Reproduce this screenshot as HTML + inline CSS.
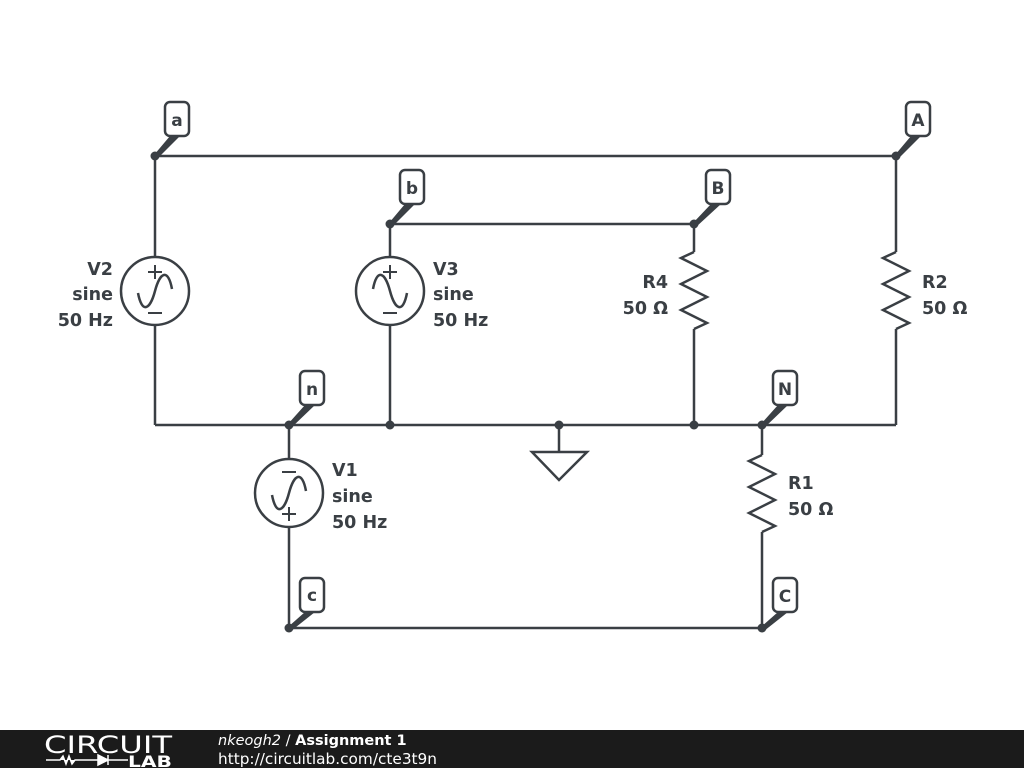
<!DOCTYPE html>
<html><head><meta charset="utf-8"><style>
html,body{margin:0;padding:0;background:#fff;}
svg{display:block}
text{font-family:"DejaVu Sans","Liberation Sans",sans-serif;font-weight:bold;fill:#3a3f44;}
</style></head><body>
<svg width="1024" height="768" viewBox="0 0 1024 768" xmlns="http://www.w3.org/2000/svg">
<g stroke="#3a3f44" stroke-width="2.5" fill="none" stroke-linejoin="miter">
<path d="M155,156 H896"/>
<path d="M390,224 H694"/>
<path d="M155,425 H896"/>
<path d="M289,628 H762"/>
<path d="M155,156 V257 M155,325 V425"/>
<path d="M390,224 V257 M390,325 V425"/>
<path d="M289,425 V459 M289,527 V628"/>
<path d="M694,224 V252 M694,329 V425"/>
<path d="M896,156 V252 M896,329 V425"/>
<path d="M762,425 V455 M762,532 V628"/>
<path d="M559,425 V452"/>
<path d="M532,452 H587 L559,480 Z"/>
<polyline points="694,252 681,258 707,271 681,284 707,297 681,310 707,323 694,329"/>
<polyline points="896,252 883,258 909,271 883,284 909,297 883,310 909,323 896,329"/>
<polyline points="762,455 749,461 775,474 749,487 775,500 749,513 775,526 762,532"/>
<circle cx="155" cy="291" r="34"/>
<circle cx="390" cy="291" r="34"/>
<circle cx="289" cy="493" r="34"/>
<path d="M138,293 C142,314 150,310 155,291 C160,272 168,268 172,289"/>
<path d="M373,289 C377,268 385,272 390,291 C395,310 403,314 407,293"/>
<path d="M272,495 C276,516 284,512 289,493 C294,474 302,470 306,491"/>
<g stroke-width="2">
<path d="M148,272 H162 M155,265 V279 M148,313 H162"/>
<path d="M383,272 H397 M390,265 V279 M383,313 H397"/>
<path d="M282,472 H296 M282,514 H296 M289,507 V521"/>
</g>
<rect x="165" y="102" width="24" height="34" rx="5"/>
<rect x="906" y="102" width="24" height="34" rx="5"/>
<rect x="400" y="170" width="24" height="34" rx="5"/>
<rect x="706" y="170" width="24" height="34" rx="5"/>
<rect x="300" y="371" width="24" height="34" rx="5"/>
<rect x="773" y="371" width="24" height="34" rx="5"/>
<rect x="300" y="578" width="24" height="34" rx="5"/>
<rect x="773" y="578" width="24" height="34" rx="5"/>
</g>
<g fill="#3a3f44">
<polygon points="154,155 170,136 180,136 157,159"/>
<polygon points="895,155 911,136 921,136 898,159"/>
<polygon points="389,223 405,204 415,204 392,227"/>
<polygon points="693,223 711,204 721,204 696,227"/>
<polygon points="288,424 305,405 315,405 291,428"/>
<polygon points="761,424 778,405 788,405 764,428"/>
<polygon points="288,627 305,612 315,612 291,631"/>
<polygon points="761,627 778,612 788,612 764,631"/>
<circle cx="155" cy="156" r="4.5"/><circle cx="896" cy="156" r="4.5"/>
<circle cx="390" cy="224" r="4.5"/><circle cx="694" cy="224" r="4.5"/>
<circle cx="289" cy="425" r="4.5"/><circle cx="390" cy="425" r="4.5"/>
<circle cx="559" cy="425" r="4.5"/><circle cx="694" cy="425" r="4.5"/>
<circle cx="762" cy="425" r="4.5"/>
<circle cx="289" cy="628" r="4.5"/><circle cx="762" cy="628" r="4.5"/>
</g>
<g font-size="17" text-anchor="middle">
<text x="177" y="126">a</text><text x="918" y="126">A</text>
<text x="412" y="194">b</text><text x="718" y="194">B</text>
<text x="312" y="395">n</text><text x="785" y="395">N</text>
<text x="312" y="601">c</text><text x="785" y="602">C</text>
</g>
<g font-size="17.5">
<text x="113" y="275" text-anchor="end">V2</text>
<text x="113" y="300" text-anchor="end">sine</text>
<text x="113" y="326" text-anchor="end">50 Hz</text>
<text x="433" y="275">V3</text>
<text x="433" y="300">sine</text>
<text x="433" y="326">50 Hz</text>
<text x="332" y="476">V1</text>
<text x="332" y="502">sine</text>
<text x="332" y="528">50 Hz</text>
<text x="668" y="288" text-anchor="end">R4</text>
<text x="668" y="314" text-anchor="end">50 Ω</text>
<text x="922" y="288">R2</text>
<text x="922" y="314">50 Ω</text>
<text x="788" y="489">R1</text>
<text x="788" y="515">50 Ω</text>
</g>
<rect x="0" y="730" width="1024" height="38" fill="#1b1b1b"/>
<text x="44" y="753" font-size="24" style="font-weight:normal;fill:#fff;font-family:'DejaVu Sans',sans-serif" textLength="128" lengthAdjust="spacingAndGlyphs">CIRCUIT</text>
<path d="M46,760 H60 l3,-4 3,8 3,-8 3,8 3,-4 H98 M98,755 V765 L108,760 Z M108,755 V765 M108,760 H128" stroke="#fff" stroke-width="1.5" fill="#fff"/>
<text x="128" y="767" font-size="16" style="fill:#fff" textLength="44" lengthAdjust="spacingAndGlyphs">LAB</text>
<text x="218" y="745" font-size="14.5" style="fill:#fff"><tspan style="font-style:oblique;font-weight:normal">nkeogh2</tspan><tspan style="font-weight:normal"> / </tspan>Assignment 1</text>
<text x="218" y="764" font-size="15" style="fill:#fff;font-weight:normal" textLength="219" lengthAdjust="spacingAndGlyphs">http://circuitlab.com/cte3t9n</text>
</svg>
</body></html>
